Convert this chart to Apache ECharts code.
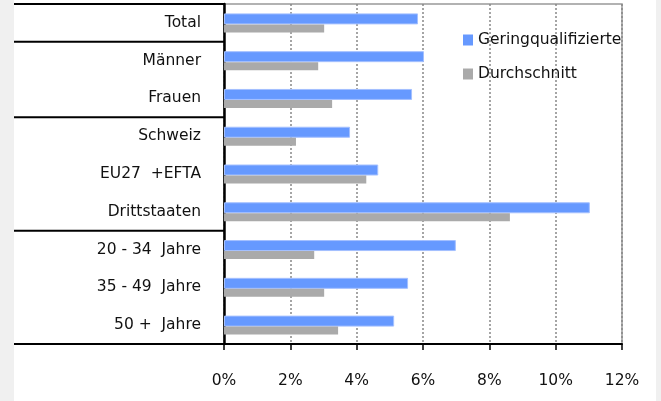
<!DOCTYPE html>
<html>
<head>
<meta charset="utf-8">
<script src="https://cdn.jsdelivr.net/npm/echarts@6/dist/echarts.min.js"></script>
<style>
    html, body { margin: 0; padding: 0; background: #f0f0f0; }
    #chart { position: absolute; left: 14px; top: 0; width: 642px; height: 401px; background: #fff; }
</style>
</head>
<body>
<div id="chart"></div>
<script>
    // Kategorien (von oben nach unten)
    const categories = ['Total', 'Männer', 'Frauen', 'Schweiz', 'EU27  +EFTA', 'Drittstaaten', '20 - 34  Jahre', '35 - 49  Jahre', '50 +  Jahre']
    const geringValues = [5.85, 6.03, 5.67, 3.80, 4.65, 11.03, 6.99, 5.55, 5.13]
    const durchschnittValues = [3.02, 2.84, 3.26, 2.17, 4.29, 8.62, 2.72, 3.02, 3.44]
    const groupBreaks = [0, 2, 5] // Trennlinie nach diesen Kategorien

    const font = 'DejaVu Sans'
    const fontSize = 15.5
    const chart = echarts.init(document.getElementById('chart'))

    const options = {
        animation: false,
        grid: {
            left: 210, right: 34, top: 4, bottom: 57,
            show: true, borderColor: '#999', borderWidth: 1.5
        },
        legend: {
            orient: 'vertical',
            left: 444,
            top: 27,
            padding: 5,
            itemWidth: 10,
            itemHeight: 11,
            itemGap: 18,
            icon: 'rect',
            itemStyle: { borderWidth: 0 },
            textStyle: { fontFamily: font, fontSize: fontSize, color: '#111' },
            data: ['Geringqualifizierte', 'Durchschnitt']
        },
        xAxis: {
            type: 'value',
            min: 0, max: 12, interval: 2,
            axisLine: { show: true, lineStyle: { color: '#000', width: 2 } },
            axisTick: { show: true, length: 6, lineStyle: { color: '#000', width: 1.5 } },
            axisLabel: { margin: 29, fontFamily: font, fontSize: fontSize, color: '#111', formatter: '{value}%' },
            splitLine: { show: true, lineStyle: { color: '#888', type: [2, 2], width: 1.5 } }
        },
        yAxis: {
            type: 'category',
            inverse: true,
            data: categories,
            axisLine: { show: true, lineStyle: { color: '#000', width: 2.5 } },
            axisTick: { show: false },
            axisLabel: { margin: 23, fontFamily: font, fontSize: fontSize, color: '#111' }
        },
        series: [
            {
                name: 'Geringqualifizierte',
                type: 'bar',
                data: geringValues,
                barWidth: 11,
                barGap: '0%',
                itemStyle: { color: '#6699ff', borderColor: '#a4c0ff', borderWidth: 1 }
            },
            {
                name: 'Durchschnitt',
                type: 'bar',
                data: durchschnittValues,
                barWidth: 8,
                barGap: '0%',
                itemStyle: { color: '#aaaaaa' }
            }
        ]
    }
    chart.setOption(options)

    // Trennlinien links neben der Achse
    const c0 = chart.convertToPixel({ yAxisIndex: 0 }, 0)
    const c1 = chart.convertToPixel({ yAxisIndex: 0 }, 1)
    const band = c1 - c0
    const ys = [c0 - band / 2]
    groupBreaks.forEach(i => ys.push(chart.convertToPixel({ yAxisIndex: 0 }, i) + band / 2))
    ys.push(chart.convertToPixel({ yAxisIndex: 0 }, categories.length - 1) + band / 2)
    chart.setOption({
        graphic: ys.map(y => ({
            type: 'line',
            shape: { x1: 0, y1: y, x2: 210, y2: y },
            style: { stroke: '#000', lineWidth: 2 },
            z: 10
        }))
    })
</script>
</body>
</html>
